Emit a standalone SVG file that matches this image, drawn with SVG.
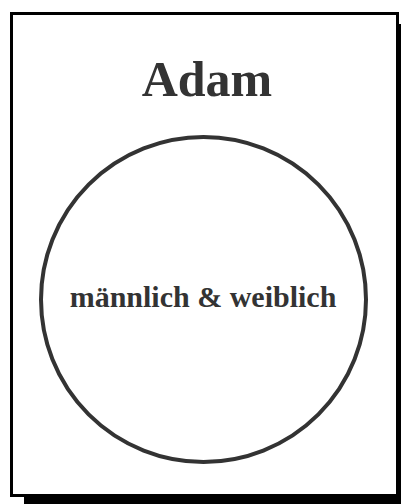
<svg xmlns="http://www.w3.org/2000/svg" width="401" height="504" viewBox="0 0 401 504">
<style>
.t{font-family:"Liberation Serif","Times New Roman",serif;font-weight:bold;fill:#333;text-anchor:middle}
</style>
<rect x="0" y="0" width="401" height="504" fill="#fff"/>
<g id="frame">
<rect x="24" y="24" width="390" height="490" fill="#000"/>
<rect x="11.5" y="13.5" width="386" height="482" fill="#fff" stroke="#000" stroke-width="3"/>
</g>
<g id="title">
<text class="t" x="207" y="96" font-size="50">Adam</text>
</g>
<g id="circle">
<circle cx="203.5" cy="299.5" r="162.5" fill="none" stroke="#333" stroke-width="4"/>
<text class="t" x="203" y="307" font-size="30">männlich &amp; weiblich</text>
</g>
</svg>
